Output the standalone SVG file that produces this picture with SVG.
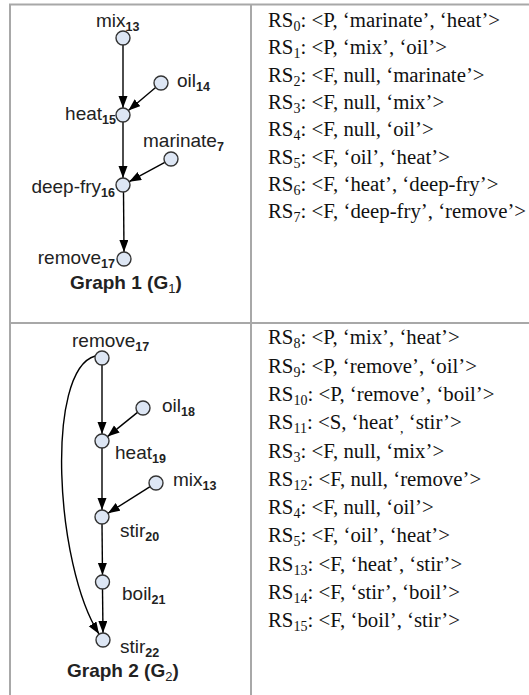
<svg xmlns="http://www.w3.org/2000/svg" width="529" height="695" viewBox="0 0 529 695">
<defs>
<marker id="arr" markerUnits="userSpaceOnUse" markerWidth="13" markerHeight="10" refX="12" refY="4.5" orient="auto">
<path d="M0,0 L12,4.5 L0,9 z" fill="#000"/>
</marker>
<style>
.b{stroke:#a8a8a8;stroke-width:2;fill:none}
.n{fill:#dde6f4;stroke:#333;stroke-width:1.4}
.e{stroke:#000;stroke-width:1.4;fill:none;marker-end:url(#arr)}
.l{font-family:"Liberation Sans",Arial,sans-serif;font-size:19px;fill:#222}
.s{font-size:12.5px;font-weight:bold}
.t{font-family:"Liberation Sans",Arial,sans-serif;font-size:19px;font-weight:bold;fill:#222}
.r{font-family:"Liberation Serif","Times New Roman",serif;font-size:20.8px;fill:#111}
.rs{font-size:14px}
</style>
</defs>
<rect width="529" height="695" fill="#fff"/>
<g id="table">
<line class="b" x1="9" y1="4.5" x2="529" y2="4.5"/>
<line class="b" x1="10" y1="4" x2="10" y2="695"/>
<line class="b" x1="251" y1="4" x2="251" y2="695"/>
<line class="b" x1="9" y1="323" x2="529" y2="323"/>
</g>
<g id="connectors">
<line class="e" x1="123" y1="45" x2="123" y2="108"/>
<line class="e" x1="155.6" y1="87.5" x2="128.4" y2="110.5"/>
<line class="e" x1="123" y1="122" x2="123" y2="178"/>
<line class="e" x1="164.8" y1="162.3" x2="129.2" y2="181.7"/>
<line class="e" x1="123.5" y1="192" x2="124" y2="252"/>
<line class="e" x1="102" y1="365" x2="102" y2="434"/>
<line class="e" x1="137.5" y1="412.4" x2="107.5" y2="436.6"/>
<line class="e" x1="102" y1="448" x2="102" y2="510"/>
<line class="e" x1="150.1" y1="486.7" x2="107.9" y2="513.3"/>
<line class="e" x1="102" y1="524" x2="102.5" y2="575"/>
<line class="e" x1="102.5" y1="589" x2="103" y2="633"/>
<path class="e" d="M95.2,356 C45,370 55,565 99,634"/>
</g>
<g id="g1-mix13"><circle class="n" cx="123" cy="38" r="7"/><text class="l" x="96" y="27">mix<tspan class="s" dy="4">13</tspan></text></g>
<g id="g1-oil14"><circle class="n" cx="161" cy="83" r="7"/><text class="l" x="177" y="87">oil<tspan class="s" dy="4">14</tspan></text></g>
<g id="g1-heat15"><circle class="n" cx="123" cy="115" r="7"/><text class="l" x="116" y="120" text-anchor="end">heat<tspan class="s" dy="4">15</tspan></text></g>
<g id="g1-marinate7"><circle class="n" cx="171" cy="159" r="7"/><text class="l" x="143" y="147">marinate<tspan class="s" dy="4">7</tspan></text></g>
<g id="g1-deepfry16"><circle class="n" cx="123" cy="185" r="7"/><text class="l" x="115" y="193" text-anchor="end">deep-fry<tspan class="s" dy="4">16</tspan></text></g>
<g id="g1-remove17"><circle class="n" cx="124" cy="259" r="7"/><text class="l" x="115" y="264" text-anchor="end">remove<tspan class="s" dy="4">17</tspan></text></g>
<g id="g1-title"><text class="t" x="70" y="289">Graph 1 (G<tspan font-size="13" font-weight="normal" dy="4">1</tspan><tspan dy="-4">)</tspan></text></g>
<g id="g2-remove17"><circle class="n" cx="102" cy="358" r="7"/><text class="l" x="72" y="347">remove<tspan class="s" dy="4">17</tspan></text></g>
<g id="g2-oil18"><circle class="n" cx="143" cy="408" r="7"/><text class="l" x="162" y="412">oil<tspan class="s" dy="4">18</tspan></text></g>
<g id="g2-heat19"><circle class="n" cx="102" cy="441" r="7"/><text class="l" x="115" y="459">heat<tspan class="s" dy="4">19</tspan></text></g>
<g id="g2-mix13"><circle class="n" cx="156" cy="483" r="7"/><text class="l" x="173" y="486">mix<tspan class="s" dy="4">13</tspan></text></g>
<g id="g2-stir20"><circle class="n" cx="102" cy="517" r="7"/><text class="l" x="120" y="537">stir<tspan class="s" dy="4">20</tspan></text></g>
<g id="g2-boil21"><circle class="n" cx="102.5" cy="582" r="7"/><text class="l" x="122" y="600">boil<tspan class="s" dy="4">21</tspan></text></g>
<g id="g2-stir22"><circle class="n" cx="103" cy="640" r="7"/><text class="l" x="120" y="653">stir<tspan class="s" dy="4">22</tspan></text></g>
<g id="g2-title"><text class="t" x="67" y="677">Graph 2 (G<tspan font-size="13" font-weight="normal" dy="4">2</tspan><tspan dy="-4">)</tspan></text></g>
<g id="rs-list-1">
<text class="r" x="268" y="27">RS<tspan class="rs" dy="4">0</tspan><tspan dy="-4">: &lt;P, ‘marinate’, ‘heat’&gt;</tspan></text>
<text class="r" x="268" y="54.3">RS<tspan class="rs" dy="4">1</tspan><tspan dy="-4">: &lt;P, ‘mix’, ‘oil’&gt;</tspan></text>
<text class="r" x="268" y="81.6">RS<tspan class="rs" dy="4">2</tspan><tspan dy="-4">: &lt;F, null, ‘marinate’&gt;</tspan></text>
<text class="r" x="268" y="108.9">RS<tspan class="rs" dy="4">3</tspan><tspan dy="-4">: &lt;F, null, ‘mix’&gt;</tspan></text>
<text class="r" x="268" y="136.2">RS<tspan class="rs" dy="4">4</tspan><tspan dy="-4">: &lt;F, null, ‘oil’&gt;</tspan></text>
<text class="r" x="268" y="163.5">RS<tspan class="rs" dy="4">5</tspan><tspan dy="-4">: &lt;F, ‘oil’, ‘heat’&gt;</tspan></text>
<text class="r" x="268" y="190.8">RS<tspan class="rs" dy="4">6</tspan><tspan dy="-4">: &lt;F, ‘heat’, ‘deep-fry’&gt;</tspan></text>
<text class="r" x="268" y="218.1">RS<tspan class="rs" dy="4">7</tspan><tspan dy="-4">: &lt;F, ‘deep-fry’, ‘remove’&gt;</tspan></text>
</g>
<g id="rs-list-2">
<text class="r" x="268" y="344.3">RS<tspan class="rs" dy="4">8</tspan><tspan dy="-4">: &lt;P, ‘mix’, ‘heat’&gt;</tspan></text>
<text class="r" x="268" y="372.6">RS<tspan class="rs" dy="4">9</tspan><tspan dy="-4">: &lt;P, ‘remove’, ‘oil’&gt;</tspan></text>
<text class="r" x="268" y="400.9">RS<tspan class="rs" dy="4">10</tspan><tspan dy="-4">: &lt;P, ‘remove’, ‘boil’&gt;</tspan></text>
<text class="r" x="268" y="429.2">RS<tspan class="rs" dy="4">11</tspan><tspan dy="-4">: &lt;S, ‘heat’</tspan><tspan class="rs" dy="4">,</tspan><tspan dy="-4"> ‘stir’&gt;</tspan></text>
<text class="r" x="268" y="457.5">RS<tspan class="rs" dy="4">3</tspan><tspan dy="-4">: &lt;F, null, ‘mix’&gt;</tspan></text>
<text class="r" x="268" y="485.8">RS<tspan class="rs" dy="4">12</tspan><tspan dy="-4">: &lt;F, null, ‘remove’&gt;</tspan></text>
<text class="r" x="268" y="514.1">RS<tspan class="rs" dy="4">4</tspan><tspan dy="-4">: &lt;F, null, ‘oil’&gt;</tspan></text>
<text class="r" x="268" y="542.4">RS<tspan class="rs" dy="4">5</tspan><tspan dy="-4">: &lt;F, ‘oil’, ‘heat’&gt;</tspan></text>
<text class="r" x="268" y="570.7">RS<tspan class="rs" dy="4">13</tspan><tspan dy="-4">: &lt;F, ‘heat’, ‘stir’&gt;</tspan></text>
<text class="r" x="268" y="599">RS<tspan class="rs" dy="4">14</tspan><tspan dy="-4">: &lt;F, ‘stir’, ‘boil’&gt;</tspan></text>
<text class="r" x="268" y="627.3">RS<tspan class="rs" dy="4">15</tspan><tspan dy="-4">: &lt;F, ‘boil’, ‘stir’&gt;</tspan></text>
</g>
</svg>
